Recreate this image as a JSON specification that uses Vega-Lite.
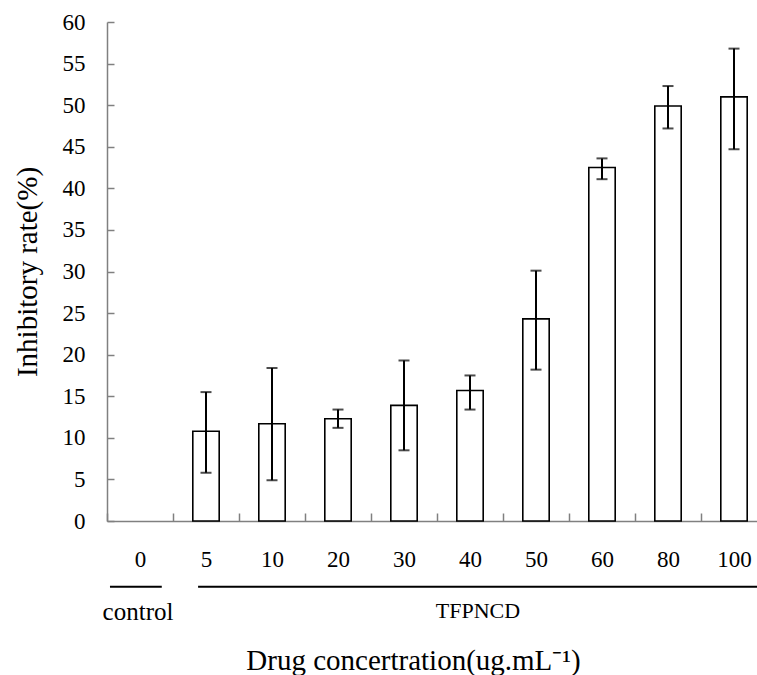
{
  "$schema": "https://vega.github.io/schema/vega-lite/v6.json",
  "autosize": {"type": "none"},
  "padding": {"left": 107, "top": 22, "right": 0, "bottom": 154},
  "width": 650,
  "height": 499,
  "background": "white",
  "config": {
    "view": {"stroke": null},
    "font": "Liberation Serif",
    "axis": {
      "labelFont": "Liberation Serif",
      "titleFont": "Liberation Serif",
      "labelColor": "black",
      "titleColor": "black",
      "titleFontWeight": "normal",
      "domainColor": "#808080",
      "tickColor": "#808080",
      "domainWidth": 1.5,
      "tickWidth": 1.5,
      "grid": false
    }
  },
  "datasets": {
    "main": [
      {"conc": "0", "rate": 0, "lo": null, "hi": null},
      {"conc": "5", "rate": 10.8, "lo": 5.8, "hi": 15.5},
      {"conc": "10", "rate": 11.7, "lo": 4.9, "hi": 18.4},
      {"conc": "20", "rate": 12.3, "lo": 11.2, "hi": 13.4},
      {"conc": "30", "rate": 13.9, "lo": 8.5, "hi": 19.3},
      {"conc": "40", "rate": 15.7, "lo": 13.4, "hi": 17.5},
      {"conc": "50", "rate": 24.3, "lo": 18.2, "hi": 30.1},
      {"conc": "60", "rate": 42.5, "lo": 41.1, "hi": 43.6},
      {"conc": "80", "rate": 49.9, "lo": 47.2, "hi": 52.3},
      {"conc": "100", "rate": 51.0, "lo": 44.7, "hi": 56.8}
    ]
  },
  "layer": [
    {
      "data": {"name": "main"},
      "transform": [{"filter": "datum.rate > 0"}],
      "mark": {"type": "bar", "width": {"band": 0.4}, "fill": "white", "stroke": "black", "strokeWidth": 1.6},
      "encoding": {
        "x": {
          "field": "conc", "type": "nominal",
          "scale": {"domain": ["0", "5", "10", "20", "30", "40", "50", "60", "80", "100"], "range": [0, 660], "paddingInner": 0, "paddingOuter": 0},
          "axis": {
            "title": "Drug concertration(ug.mL⁻¹)",
            "titleFontSize": 29,
            "titleX": 306,
            "titleY": 148,
            "titleBaseline": "alphabetic",
            "labelAngle": 0,
            "labelFontSize": 23,
            "labelBaseline": "top",
            "tickBand": "extent",
            "tickSize": -8,
            "labelPadding": 35
          }
        },
        "y": {
          "field": "rate", "type": "quantitative",
          "scale": {"domain": [0, 60], "nice": false},
          "axis": {
            "title": "Inhibitory rate(%)",
            "titleFontSize": 29,
            "titleX": -80,
            "titleY": 249.5,
            "titleBaseline": "middle",
            "values": [0, 5, 10, 15, 20, 25, 30, 35, 40, 45, 50, 55, 60],
            "labelFontSize": 23,
            "tickSize": -7,
            "labelPadding": 29
          }
        }
      }
    },
    {
      "data": {"name": "main"},
      "transform": [{"filter": "datum.lo != null"}],
      "mark": {"type": "rule", "color": "black", "strokeWidth": 2},
      "encoding": {
        "x": {"field": "conc", "type": "nominal"},
        "y": {"field": "lo", "type": "quantitative"},
        "y2": {"field": "hi"}
      }
    },
    {
      "data": {"name": "main"},
      "transform": [{"filter": "datum.lo != null"}],
      "mark": {"type": "tick", "color": "black", "thickness": 2, "size": 11, "orient": "horizontal"},
      "encoding": {
        "x": {"field": "conc", "type": "nominal"},
        "y": {"field": "lo", "type": "quantitative"}
      }
    },
    {
      "data": {"name": "main"},
      "transform": [{"filter": "datum.lo != null"}],
      "mark": {"type": "tick", "color": "black", "thickness": 2, "size": 11, "orient": "horizontal"},
      "encoding": {
        "x": {"field": "conc", "type": "nominal"},
        "y": {"field": "hi", "type": "quantitative"}
      }
    },
    {
      "data": {"values": [{"start": "0", "end": "0", "level": -7.9}]},
      "mark": {"type": "rule", "color": "black", "strokeWidth": 2},
      "encoding": {
        "x": {"field": "start", "type": "nominal", "bandPosition": 0.045},
        "x2": {"field": "end", "bandPosition": 0.83},
        "y": {"field": "level", "type": "quantitative"}
      }
    },
    {
      "data": {"values": [{"start": "5", "end": "100", "level": -7.9}]},
      "mark": {"type": "rule", "color": "black", "strokeWidth": 2},
      "encoding": {
        "x": {"field": "start", "type": "nominal", "bandPosition": 0.38},
        "x2": {"field": "end", "bandPosition": 1},
        "y": {"field": "level", "type": "quantitative"}
      }
    },
    {
      "data": {"values": [{"pos": "0", "level": -11.9, "label": "control"}]},
      "mark": {"type": "text", "fontSize": 25, "font": "Liberation Serif", "color": "black", "baseline": "alphabetic", "align": "center"},
      "encoding": {
        "x": {"field": "pos", "type": "nominal", "bandPosition": 0.47},
        "y": {"field": "level", "type": "quantitative"},
        "text": {"field": "label"}
      }
    },
    {
      "data": {"values": [{"pos": "40", "level": -11.7, "label": "TFPNCD"}]},
      "mark": {"type": "text", "fontSize": 22, "font": "Liberation Serif", "color": "black", "baseline": "alphabetic", "align": "center"},
      "encoding": {
        "x": {"field": "pos", "type": "nominal", "bandPosition": 0.62},
        "y": {"field": "level", "type": "quantitative"},
        "text": {"field": "label"}
      }
    }
  ]
}
